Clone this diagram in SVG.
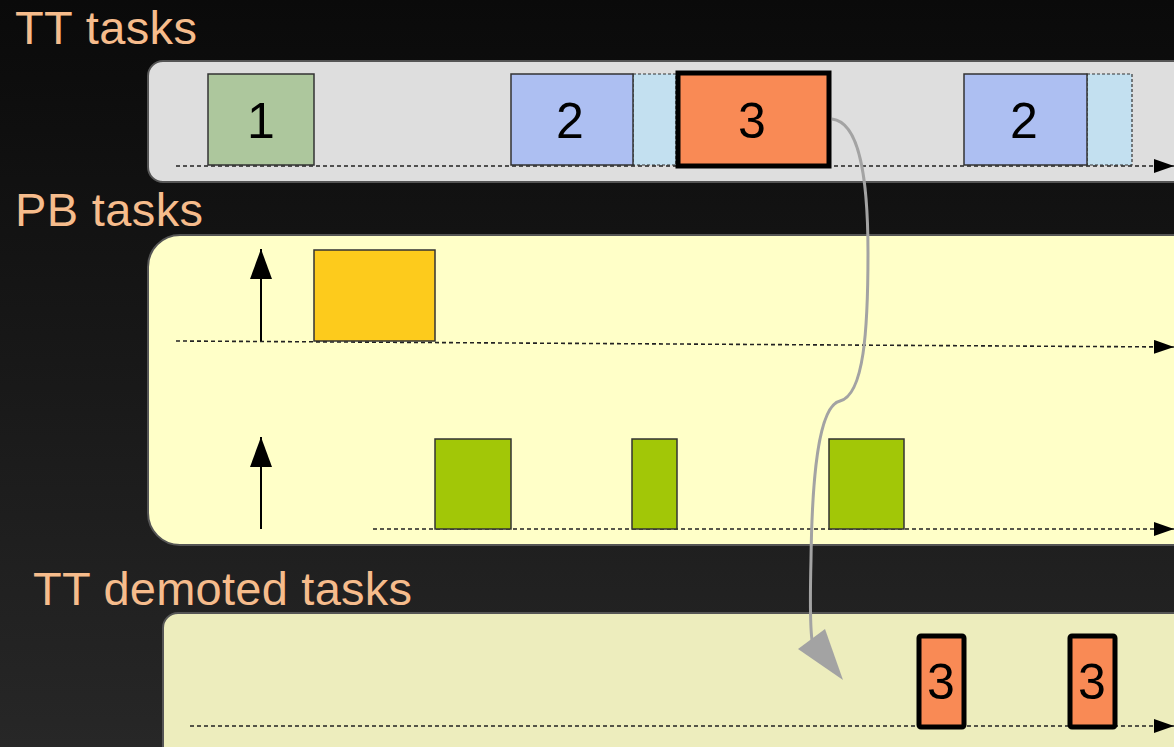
<svg xmlns="http://www.w3.org/2000/svg" width="1174" height="747" viewBox="0 0 1174 747">
<defs>
<linearGradient id="bg" x1="0" y1="0" x2="0" y2="1">
<stop offset="0" stop-color="#0a0a0a"/>
<stop offset="1" stop-color="#272727"/>
</linearGradient>
<marker id="ah" viewBox="0 0 20 14" refX="20" refY="7" markerWidth="20" markerHeight="14" markerUnits="userSpaceOnUse" orient="auto">
<path d="M0,0 L20,7 L0,14 z" fill="#000"/>
</marker>
<marker id="up" viewBox="0 0 30 22" refX="30" refY="11" markerWidth="30" markerHeight="22" markerUnits="userSpaceOnUse" orient="auto">
<path d="M0,0 L30,11 L0,22 z" fill="#000"/>
</marker>
</defs>
<style>
.lbl{font-family:"Liberation Sans",Arial,sans-serif;font-size:47px;fill:#f6bc8c}
.num{font-family:"Liberation Sans",Arial,sans-serif;font-size:50px;fill:#000;text-anchor:middle}
.axis{stroke:#222;stroke-width:1.6;stroke-dasharray:4,3;fill:none}
.box{stroke:#333;stroke-width:1.5}
.hot{fill:#f98a55;stroke:#000;stroke-width:5}
.ext{fill:#c3e0f0;stroke:#333;stroke-width:1.2;stroke-dasharray:3,2}
.vup{stroke:#000;stroke-width:2}
</style>
<rect width="1174" height="747" fill="url(#bg)"/>

<g id="label-tt"><text class="lbl" x="15" y="44" textLength="182">TT tasks</text></g>
<g id="label-pb"><text class="lbl" x="15" y="226" textLength="188">PB tasks</text></g>
<g id="label-demoted"><text class="lbl" x="33" y="605" textLength="379">TT demoted tasks</text></g>

<g id="panel-tt">
<rect x="148" y="61" width="1060" height="121" rx="15" fill="#dedede" stroke="#555" stroke-width="2"/>
</g>
<g id="panel-pb">
<rect x="148" y="235" width="1060" height="310" rx="32" fill="#ffffc8" stroke="#555" stroke-width="2"/>
</g>
<g id="panel-demoted">
<rect x="163" y="613" width="1045" height="160" rx="15" fill="#ededbd" stroke="#555" stroke-width="2"/>
</g>

<g id="axes">
<line class="axis" x1="176" y1="166" x2="1174" y2="166" marker-end="url(#ah)"/>
<line class="axis" x1="176" y1="341" x2="1174" y2="347" marker-end="url(#ah)"/>
<line class="axis" x1="373" y1="529" x2="1174" y2="529" marker-end="url(#ah)"/>
<line class="axis" x1="190" y1="726" x2="1174" y2="726" marker-end="url(#ah)"/>
</g>

<g id="tt-task1">
<rect class="box" x="208" y="74" width="106" height="91" fill="#adc79d"/>
<text class="num" x="261" y="138">1</text>
</g>
<g id="tt-task2a">
<rect class="ext" x="633" y="74" width="43" height="91"/>
<rect class="box" x="511" y="74" width="122" height="91" fill="#adbff2"/>
<text class="num" x="570" y="138">2</text>
</g>
<g id="tt-task3">
<rect class="hot" x="678" y="73" width="151" height="93"/>
<text class="num" x="752" y="138">3</text>
</g>
<g id="tt-task2b">
<rect class="ext" x="1087" y="74" width="45" height="91"/>
<rect class="box" x="964" y="74" width="123" height="91" fill="#adbff2"/>
<text class="num" x="1024" y="138">2</text>
</g>

<g id="pb-arrival1"><line class="vup" x1="261" y1="341" x2="261" y2="249" marker-end="url(#up)"/></g>
<g id="pb-task-yellow"><rect class="box" x="314" y="250" width="121" height="91" fill="#fdcb1c"/></g>
<g id="pb-arrival2"><line class="vup" x1="261" y1="529" x2="261" y2="437" marker-end="url(#up)"/></g>
<g id="pb-green1"><rect class="box" x="435" y="439" width="76" height="90" fill="#a2c707"/></g>
<g id="pb-green2"><rect class="box" x="632" y="439" width="45" height="90" fill="#a2c707"/></g>
<g id="pb-green3"><rect class="box" x="829" y="439" width="75" height="90" fill="#a2c707"/></g>

<g id="demoted-3a">
<rect class="hot" x="919" y="636" width="45" height="91" rx="2"/>
<text class="num" x="941" y="699">3</text>
</g>
<g id="demoted-3b">
<rect class="hot" x="1070" y="636" width="45" height="91" rx="2"/>
<text class="num" x="1092" y="699">3</text>
</g>

<g id="connectors">
<path d="M 832 119 C 860 122, 868 180, 868 253 C 868 330, 864 395, 840 401 C 818 406, 812 480, 811 560 C 810 600, 810 625, 812 640" fill="none" stroke="#a3a3a3" stroke-width="3"/>
<polygon points="798,649 825,629 843,680" fill="#a3a3a3"/>
</g>
</svg>
